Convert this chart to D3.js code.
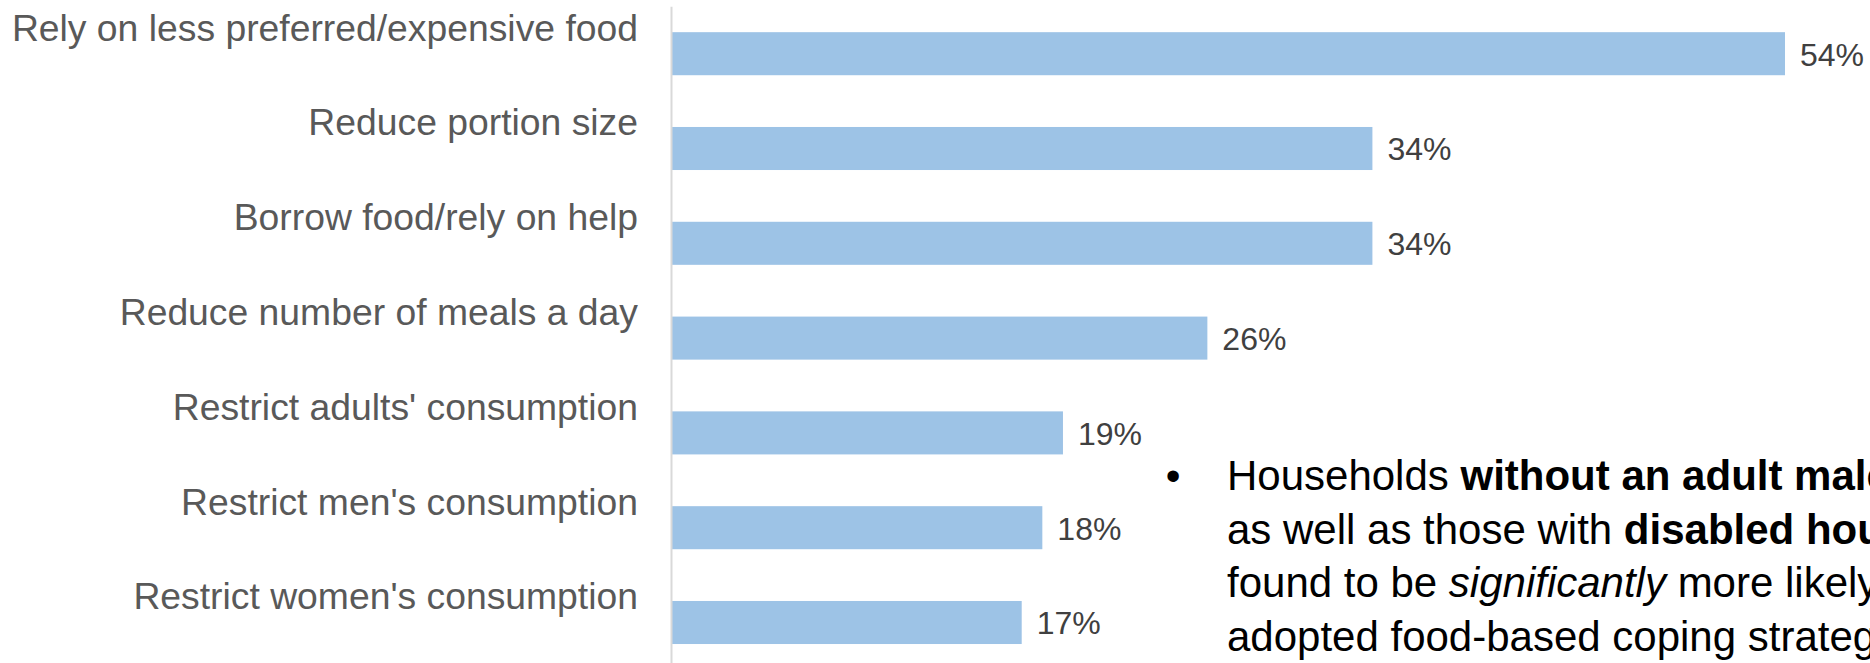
<!DOCTYPE html>
<html>
<head>
<meta charset="utf-8">
<script src="https://cdn.jsdelivr.net/npm/d3@7/dist/d3.min.js"></script>
<style>
  html, body { margin: 0; padding: 0; background: #ffffff; }
  svg { display: block; overflow: hidden; font-family: "Liberation Sans", Arial, Helvetica, sans-serif; }
</style>
</head>
<body>
<svg id="chart" width="1870" height="663"></svg>
<script>
// ---- data ----
const categories = [
  "Rely on less preferred/expensive food",
  "Reduce portion size",
  "Borrow food/rely on help",
  "Reduce number of meals a day",
  "Restrict adults' consumption",
  "Restrict men's consumption",
  "Restrict women's consumption"
];
const values = [54, 34, 34, 26, 19, 18, 17];
const valueLabels = ["54%", "34%", "34%", "26%", "19%", "18%", "17%"];

// annotation lines: segments of [text, style] (the reference cuts them at the right edge)
const noteLines = [
  [["Households ", "normal"], ["without an adult male", "bold"], [",", "normal"]],
  [["as well as those with ", "normal"], ["disabled household members", "bold"], [", were", "normal"]],
  [["found to be ", "normal"], ["significantly", "italic"], [" more likely to have", "normal"]],
  [["adopted food-based coping strategies.", "normal"]]
];

// ---- layout ----
const svg = d3.select("#chart");

const x = d3.scaleLinear().domain([0, 54]).range([671, 1785]);
const y = d3.scaleBand()
  .domain(categories)
  .range([6.3, 669.9])
  .paddingInner(0.546)
  .paddingOuter(0.273);

// bars
svg.append("g")
  .selectAll("rect")
  .data(values)
  .join("rect")
  .attr("x", x(0))
  .attr("y", (d, i) => y(categories[i]))
  .attr("width", d => x(d) - x(0))
  .attr("height", y.bandwidth())
  .attr("fill", "#9DC3E6");

// category axis
const axis = svg.append("g")
  .attr("transform", `translate(${x(0)},0)`)
  .call(d3.axisLeft(y).tickSize(0).tickSizeOuter(0).tickPadding(33));
axis.select(".domain").attr("stroke", "#D9D9D9").attr("stroke-width", 2);
axis.selectAll(".tick text")
  .attr("fill", "#595959")
  .attr("font-size", 37.3)
  .attr("font-family", "'Liberation Sans', Arial, sans-serif")
  .attr("dy", "-0.35em");

// value labels
svg.append("g")
  .selectAll("text")
  .data(values)
  .join("text")
  .attr("x", d => x(d) + 15)
  .attr("y", (d, i) => y(categories[i]) + y.bandwidth() / 2)
  .attr("dy", "0.37em")
  .attr("fill", "#404040")
  .attr("font-size", 32)
  .text((d, i) => valueLabels[i]);

// annotation
const note = svg.append("g").attr("fill", "#000000").attr("font-size", 42);
note.append("text")
  .attr("x", 1173)
  .attr("y", 490)
  .attr("text-anchor", "middle")
  .text("\u2022");
noteLines.forEach((segs, li) => {
  const t = note.append("text")
    .attr("x", 1227)
    .attr("y", 490 + li * 53.5);
  segs.forEach(([txt, st]) => {
    const ts = t.append("tspan").text(txt);
    if (st === "bold") ts.attr("font-weight", "bold");
    if (st === "italic") ts.attr("font-style", "italic");
  });
});
</script>
</body>
</html>
